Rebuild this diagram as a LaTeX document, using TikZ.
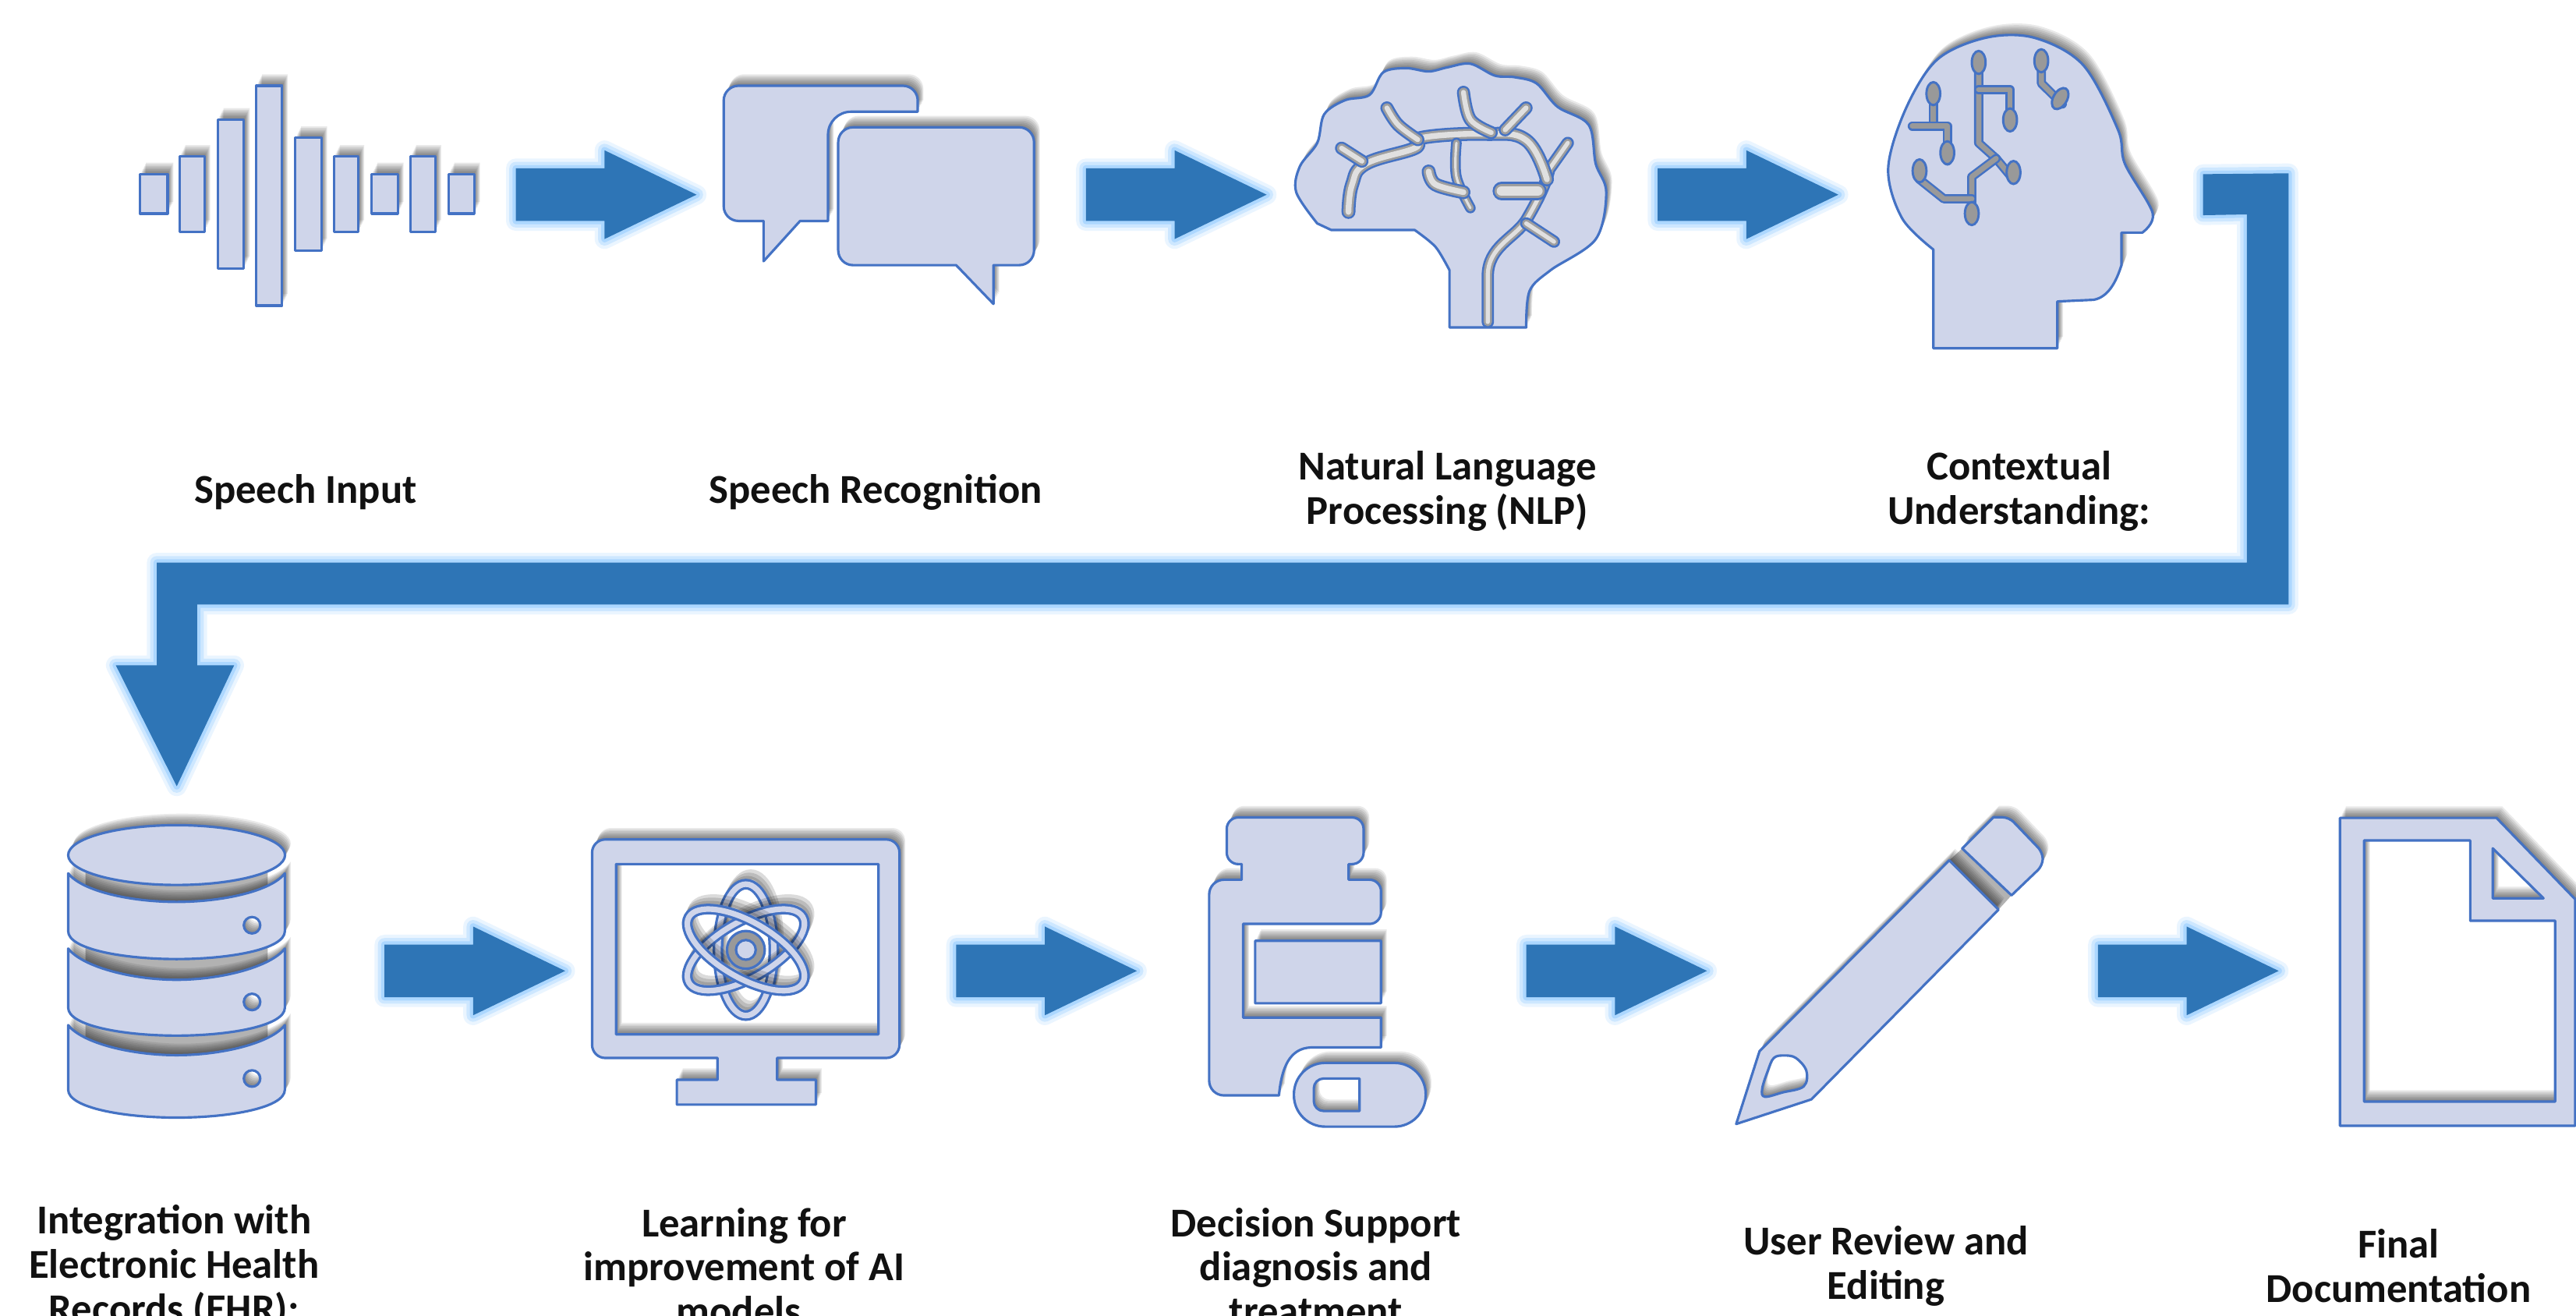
\documentclass[tikz,border=0pt]{standalone}
\usepackage{fontspec}
\setmainfont{Carlito}
\usetikzlibrary{calc}
\definecolor{iconfill}{HTML}{CFD5EA}
\definecolor{iconline}{HTML}{4472C4}
\definecolor{arrowblue}{HTML}{2E75B6}
\definecolor{glowc}{HTML}{8CC8FF}
\definecolor{txt}{HTML}{111111}
\tikzset{
  iconbox/.style={inner sep=0pt,outer sep=0pt},
  label/.style={align=center,text=txt,font=\fontsize{25}{27}\selectfont\bfseries,inner sep=0pt},
  iconbody/.style={fill=iconfill,draw=iconline,line width=1.5pt,even odd rule,line join=round},
  shadowlayer/.style={fill=black,opacity=.085,even odd rule},
  gapshade/.style={fill=black!30},
}
\newcommand{\icon}[1]{%
  \foreach \dx/\dy in {.5/-1,1/-2,1.5/-3,2/-4,2.5/-5,3/-6,3.5/-7}{%
    \begin{scope}[shift={(\dx,\dy)}]\path[shadowlayer] #1;\end{scope}}%
  \path[iconbody] #1;}
\newcommand{\glowfill}[1]{%
  \foreach \w/\o in {12/.18,8/.3,4/.5}{\draw[glowc,line width=\w pt,opacity=\o,line join=round] #1;}%
  \fill[arrowblue] #1;}
\newcommand{\blockarrow}[2]{\glowfill{(#1.east) ++(0,-16) -- ++(54,0) -- ++(0,-11) -- (#2.west) -- ($(#1.east)+(54,27)$) -- ++(0,-11) -- ++(-54,0) -- cycle}}
\newcommand{\groove}[2][8]{%
  \draw[iconline,line width=#1 pt,line cap=round,line join=round] #2;
  \draw[black!38,line width=#1 pt-2.4pt,line cap=round,line join=round] #2;
  \draw[white!88!black,line width=#1 pt-5pt,line cap=round,line join=round] #2;}
\newcommand{\trace}[1]{%
  \draw[iconline,line width=5.6pt,line cap=round,line join=round] #1;
  \draw[black!40,line width=3.2pt,line cap=round,line join=round] #1;}
\newcommand{\tend}[3][90]{\filldraw[fill=black!40,draw=iconline,line width=1.4pt,rotate around={#1:(#2,#3)}] (#2,#3) ellipse [x radius=7,y radius=4.2];}
\newcommand{\atomring}[1]{%
  \foreach \dx/\dy in {1/-2,2/-4,3/-6}{%
    \draw[black,opacity=.14,line width=6pt,shift={(\dx,\dy)},rotate around={#1:(454,578.2)}] (454,578.2) ellipse [x radius=40,y radius=17];}%
  \draw[iconline,line width=6.5pt,rotate around={#1:(454,578.2)}] (454,578.2) ellipse [x radius=40,y radius=17];
  \draw[iconfill,line width=3.4pt,rotate around={#1:(454,578.2)}] (454,578.2) ellipse [x radius=40,y radius=17];}
\newcommand{\diskp}[3]{(41.5,#1) .. controls (50,#1+11) and (80,#2) .. (107.5,#2) .. controls (135,#2) and (165,#1+11) .. (173.4,#1) -- (173.4,#3-17) .. controls (173.4,#3-6) and (140,#3) .. (107.5,#3) .. controls (75,#3) and (41.5,#3-6) .. (41.5,#3-17) -- cycle}
\begin{document}
\begin{tikzpicture}[x=1pt,y=-1pt]
\useasboundingbox (0,0) rectangle (1568,801);
\clip (0,0) rectangle (1568,801);
\fill[white] (0,0) rectangle (1568,801);
% invisible icon frames: arrows run between their edges
\node[iconbox,minimum width=254pt,minimum height=170pt] (speech) at (187,118.5) {};
\node[iconbox,minimum width=237pt,minimum height=170pt] (bubbles) at (542.5,118.5) {};
\node[iconbox,minimum width=238pt,minimum height=170pt] (brain) at (890,118.5) {};
\node[iconbox,minimum width=222pt,minimum height=170pt] (head) at (1230,118.5) {};
\node[iconbox,minimum width=252.8pt,minimum height=224.8pt] (db) at (107.6,591) {};
\node[iconbox,minimum width=238pt,minimum height=170pt] (monitor) at (463,591) {};
\node[iconbox,minimum width=237pt,minimum height=170pt] (bottle) at (810.5,591) {};
\node[iconbox,minimum width=238pt,minimum height=170pt] (pencil) at (1158,591) {};
\node[iconbox,minimum width=180pt,minimum height=170pt] (doc) at (1477,591) {};
% sound wave
\icon{(85.3,106) rectangle (102,130) (109.3,95.3) rectangle (124.5,141) (132.5,72.8) rectangle (148.5,163.3) (156,52.2) rectangle (171.7,186) (179.7,83.9) rectangle (195.7,152.4) (203.3,95.3) rectangle (218.2,141) (226.2,106) rectangle (242.2,130) (249.8,95.3) rectangle (265,141) (273,106) rectangle (288.7,130)}
% speech bubbles
\icon{(464.8,159) -- (464.8,134.5) [rounded corners=9pt] -- (440.5,134.5) -- (440.5,52.2) -- (558.6,52.2) [sharp corners] -- (558.6,68) [rounded corners=14pt] -- (504,68) [sharp corners] -- (504,134.5) -- (487,134.5) -- cycle
 (582,161.4) [rounded corners=9pt] -- (510.2,161.4) -- (510.2,77.5) -- (629.4,77.5) -- (629.4,161.4) [sharp corners] -- (604.7,161.4) -- (604.7,185) -- cycle}
% brain
\icon{(882.3,199.3) -- plot[smooth,tension=.5] coordinates {(882.3,164.5) (873.8,150.3) (861.1,140)} -- (810.3,140) -- plot[smooth,tension=.55] coordinates {(801.8,136) (789,117) (791.2,101.3) (801.8,87) (806,69.6) (818.7,61) (833.6,57.8) (842,44) (856,41.5) (869.6,43.5) (881,41) (895,38.8) (909.8,46) (922,47) (935.3,50.8) (948,65) (967,76) (971.3,99.7) (977.7,117) (971.3,145.6) (943.8,164.5) (931,177.2) (929,199.3)} -- (909.8,199.3) -- (901.4,199.3) -- cycle}
\groove[7.5]{(905.6,196) -- (905.6,168) .. controls (905.6,150) and (922,145) .. (929,134) .. controls (936,122) and (941,112) .. (943,103) -- (954.3,87)}
\groove[7.5]{(929,136) -- (945.9,147.1)}
\groove[11]{(914,116.3) -- (936,116.3)}
\groove[8.5]{plot[smooth,tension=.7] coordinates {(820.8,129) (823,112.3) (831.4,99.7) (861.1,90.2) (865.3,83.9) (903.5,81.5) (929,85.4) (941.6,109.2)}}
\groove{(816.6,90.2) -- (829,98.1)}
\groove{plot[smooth,tension=.6] coordinates {(844.2,65.7) (851,76) (863,85)}}
\groove{plot[smooth,tension=.6] coordinates {(890.8,56.2) (895,72.8) (907.7,80.7)}}
\groove{(928.9,65.7) -- (916.2,79)}
\groove[6.5]{plot[smooth,tension=.6] coordinates {(886.5,87) (886.5,107.6) (895,126.6)}}
\groove[8.5]{plot[smooth,tension=.6] coordinates {(869.6,104.4) (873.8,112.3) (890.8,117)}}
% head
\icon{(1176.8,212) -- (1176.8,151.9) -- plot[smooth,tension=.55] coordinates {(1176.8,151.9) (1157.8,132.9) (1149.3,102.8) (1159.9,66.5) (1179,36.4) (1208.6,23) (1238.3,23) (1268,39.6) (1289.2,79) (1293.4,99.7) (1310.3,129.7) (1304,141.6)} -- (1291.3,141.6) -- (1291.3,161.4) .. controls (1288,172) and (1283,181) .. (1274.3,182.5) -- (1252.3,183.5) -- (1252.3,212) -- cycle}
\trace{(1204.4,34.8) -- (1204.4,87) -- (1215,96.5) -- (1225.6,109.2)}
\trace{(1215,96.5) -- (1200.2,107.6) -- (1200.2,134.5)}
\trace{(1204.4,54.6) -- (1223.5,54.6) -- (1223.5,77.5)}
\trace{(1242.5,33.2) -- (1242.5,50.6) -- (1255.3,63.3)}
\trace{(1176.8,53.8) -- (1176.8,76.7)}
\trace{(1164,76.7) -- (1185.3,76.7) -- (1185.3,98)}
\trace{(1168.4,100.5) -- (1168.4,109.2) -- (1183.2,121) -- (1200.2,121)}
\tend{1204.4}{38}\tend{1176.8}{57}\tend{1185.3}{93}\tend{1223.5}{73}\tend{1200.2}{130}\tend{1225.6}{105}\tend{1168.4}{104}\tend[60]{1254}{60}\tend{1242.5}{37}
% database
\fill[gapshade] (52,530) rectangle (163,550) (52,575) rectangle (163,597) (52,621) rectangle (163,643);
\icon{(107.5,520.5) ellipse [x radius=66,y radius=18.2] \diskp{531.6}{549}{583.8} \diskp{577.4}{596.4}{630.4} \diskp{624}{642.3}{680.3} (153.4,563.2) circle [radius=5] (153.4,609.9) circle [radius=5] (153.4,656.5) circle [radius=5]}
% monitor
\icon{(473,644) -- (473,657.3) -- (496.6,657.3) -- (496.6,672.4) -- (412,672.4) -- (412,657.3) -- (436.7,657.3) -- (436.7,644) [rounded corners=8pt] -- (360.4,644) -- (360.4,511) -- (547.5,511) -- (547.5,644) [sharp corners] -- cycle (375,526) rectangle (534.7,629.6)}
\atomring{90}\atomring{30}\atomring{150}
\fill[black!40,draw=iconline,line width=1.5pt] (454,578.2) circle [radius=11.5];
\fill[iconfill,draw=iconline,line width=1.5pt] (454,578.2) circle [radius=6];
% pill bottle
\icon{(778.5,666.8) [rounded corners=9pt] -- (736,666.8) -- (736,535.5) [sharp corners] -- (755.8,535.5) -- (755.8,526) [rounded corners=7pt] -- (746.7,526) -- (746.7,497.6) -- (830,497.6) -- (830,526) [sharp corners] -- (820.9,526) -- (820.9,535.5) [rounded corners=7pt] -- (840.6,535.5) -- (840.6,562.4) [sharp corners] -- (756.7,562.4) -- (756.7,619.4) -- (840.6,619.4) -- (840.6,637.6) -- (798,637.6) .. controls (785,638) and (780,650) .. (778.5,666.8) -- cycle
 (764,572.7) rectangle (840.6,610.7)
 (807,647) [rounded corners=19pt] -- (787.6,647) -- (787.6,685.8) -- (867.8,685.8) -- (867.8,647) [sharp corners] -- cycle
 (827.5,656.5) -- (827.5,676.3) [rounded corners=6pt] -- (799.7,676.3) -- (799.7,656.5) [sharp corners] -- cycle}
% pencil
\fill[gapshade] (1186.5,523.7) -- (1194.4,516.5) -- (1224.4,545) -- (1216.5,553.7) -- cycle;
\icon{(1056.8,684.2) -- (1071,639.9) -- (1186.5,523.7) -- (1216.5,553.7) -- (1102.6,669.2) -- cycle
 (1194.4,516.5) -- (1213.4,497.5) [rounded corners=4pt] -- (1222.9,497.5) -- (1243.4,518.9) -- (1243.4,526.8) [sharp corners] -- (1224.4,545) -- cycle
 plot[smooth cycle,tension=.6] coordinates {(1079.7,644) (1086,642.5) (1093.1,644) (1099.5,651.8) (1097.9,661.3) (1085,665) (1074.2,667.6) (1072.6,662.9) (1076,652)}}
% document
\icon{(1424.3,497.9) -- (1519.6,497.9) -- (1567.5,547.4) -- (1567.5,685.3) -- (1424.3,685.3) -- cycle
 (1439,511.6) -- (1503.6,511.6) -- (1503.6,560.5) -- (1555.3,560.5) -- (1555.3,670.6) -- (1439,670.6) -- cycle
 (1517.3,516.4) -- (1517.3,546.8) -- (1548.2,546.8) -- cycle}
% block arrows
\blockarrow{speech}{bubbles}
\blockarrow{bubbles}{brain}
\blockarrow{brain}{head}
\blockarrow{db}{monitor}
\blockarrow{monitor}{bottle}
\blockarrow{bottle}{pencil}
\blockarrow{pencil}{doc}
\glowfill{(head.east) ++(0,-12.5) -- (1393,105.5) -- (1393,368) -- (120,368) -- (120,405) -- (142.5,405) -- (db.north) -- (70.5,405) -- (95.4,405) -- (95.4,342.5) -- (1367.6,342.5) -- (1367.6,130.5) -- ($(head.east)+(0,12.5)$) -- cycle}
% labels
\node[label] (l1) at (186,299.5) {Speech Input};
\node[label] (l2) at (533,299.5) {Speech Recognition};
\node[label] (l3) at (881,299) {Natural Language\\Processing (NLP)};
\node[label] (l4) at (1229,299) {Contextual\\Understanding:};
\node[label] (l5) at (106,771) {Integration with\\Electronic Health\\Records (EHR):};
\node[label] (l6) at (453,771) {Learning for\\improvement of AI\\models.};
\node[label] (l7) at (801,771) {Decision Support\\diagnosis and\\treatment};
\node[label] (l8) at (1148,770.5) {User Review and\\Editing};
\node[label] (l9) at (1460,770.5) {Final\\Documentation};
\end{tikzpicture}
\end{document}
